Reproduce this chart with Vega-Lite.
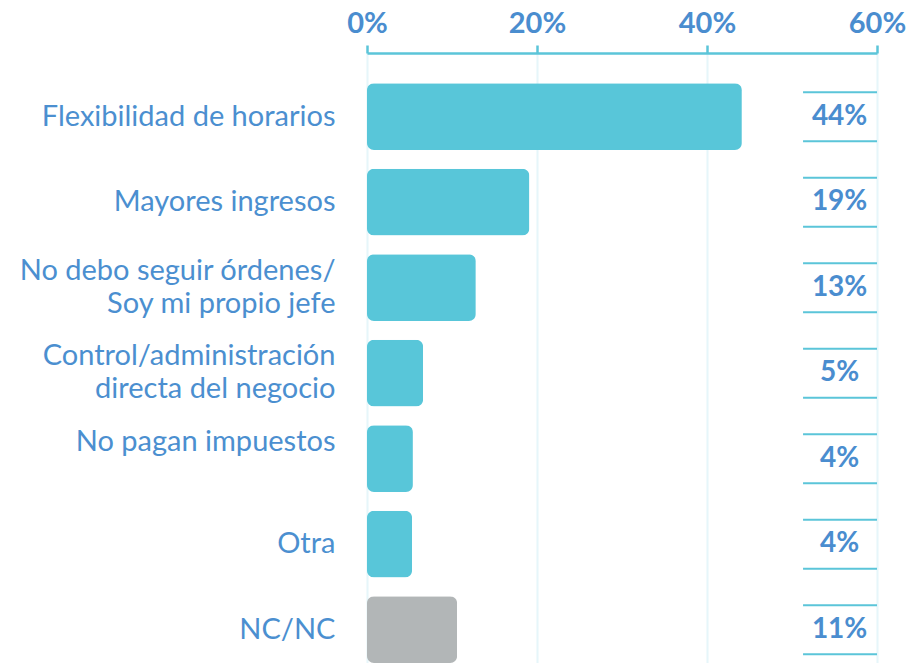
{
  "$schema": "https://vega.github.io/schema/vega-lite/v6.json",
  "width": 510,
  "height": 610,
  "autosize": {"type": "none"},
  "padding": {"left": 367, "top": 53, "right": 33, "bottom": 0},
  "background": "white",
  "config": {"view": {"stroke": null}, "font": "Lato"},
  "data": {
    "values": [
      {"cat": "Flexibilidad de horarios", "share": 44.1, "label": "44%", "group": "main"},
      {"cat": "Mayores ingresos", "share": 19.1, "label": "19%", "group": "main"},
      {"cat": "No debo seguir órdenes/|Soy mi propio jefe", "share": 12.8, "label": "13%", "group": "main"},
      {"cat": "Control/administración|directa del negocio", "share": 6.6, "label": "5%", "group": "main"},
      {"cat": "No pagan impuestos", "share": 5.4, "label": "4%", "group": "main"},
      {"cat": "Otra", "share": 5.3, "label": "4%", "group": "main"},
      {"cat": "NC/NC", "share": 10.6, "label": "11%", "group": "nc"}
    ]
  },
  "encoding": {
    "y": {
      "field": "cat",
      "type": "nominal",
      "sort": null,
      "scale": {"paddingInner": 0.22, "paddingOuter": 0.1775, "align": 1},
      "axis": {
        "title": null,
        "domain": false,
        "ticks": false,
        "labelExpr": "split(datum.label, '|')",
        "labelFontSize": 29,
        "labelColor": "#4b8fd0",
        "labelPadding": 32,
        "labelLimit": 400,
        "labelLineHeight": 33,
        "labelAlign": "right",
        "labelBaseline": "middle",
        "labelOffset": {
          "condition": {"test": "indexof(datum.value, '|') >= 0 || datum.value === 'No pagan impuestos'", "value": -17},
          "value": 0
        }
      }
    }
  },
  "layer": [
    {
      "mark": {"type": "bar", "cornerRadius": 7},
      "encoding": {
        "x": {
          "field": "share",
          "type": "quantitative",
          "scale": {"domain": [0, 60]},
          "axis": {
            "orient": "top",
            "title": null,
            "values": [0, 20, 40, 60],
            "labelExpr": "datum.value + '%'",
            "labelFontSize": 29,
            "labelFontWeight": "bold",
            "labelColor": "#4a8dcf",
            "labelPadding": 7,
            "labelFlush": false,
            "labelOverlap": false,
            "domainColor": "#5bc5d9",
            "domainWidth": 2.5,
            "tickColor": "#5bc5d9",
            "tickWidth": 2.5,
            "tickSize": 8,
            "grid": true,
            "gridColor": "#e6f6fa",
            "gridWidth": 2
          }
        },
        "color": {
          "field": "group",
          "type": "nominal",
          "scale": {"domain": ["main", "nc"], "range": ["#58c6d9", "#b2b6b7"]},
          "legend": null
        }
      }
    },
    {
      "mark": {"type": "rule", "yOffset": -24.5, "color": "#5bc5d9", "strokeWidth": 2},
      "encoding": {"x": {"datum": 51.3}, "x2": {"datum": 60}}
    },
    {
      "mark": {"type": "rule", "yOffset": 24.5, "color": "#5bc5d9", "strokeWidth": 2},
      "encoding": {"x": {"datum": 51.3}, "x2": {"datum": 60}}
    },
    {
      "mark": {"type": "text", "fontWeight": "bold", "fontSize": 28, "color": "#4a8dcf"},
      "encoding": {"x": {"datum": 55.6}, "text": {"field": "label"}}
    }
  ]
}
